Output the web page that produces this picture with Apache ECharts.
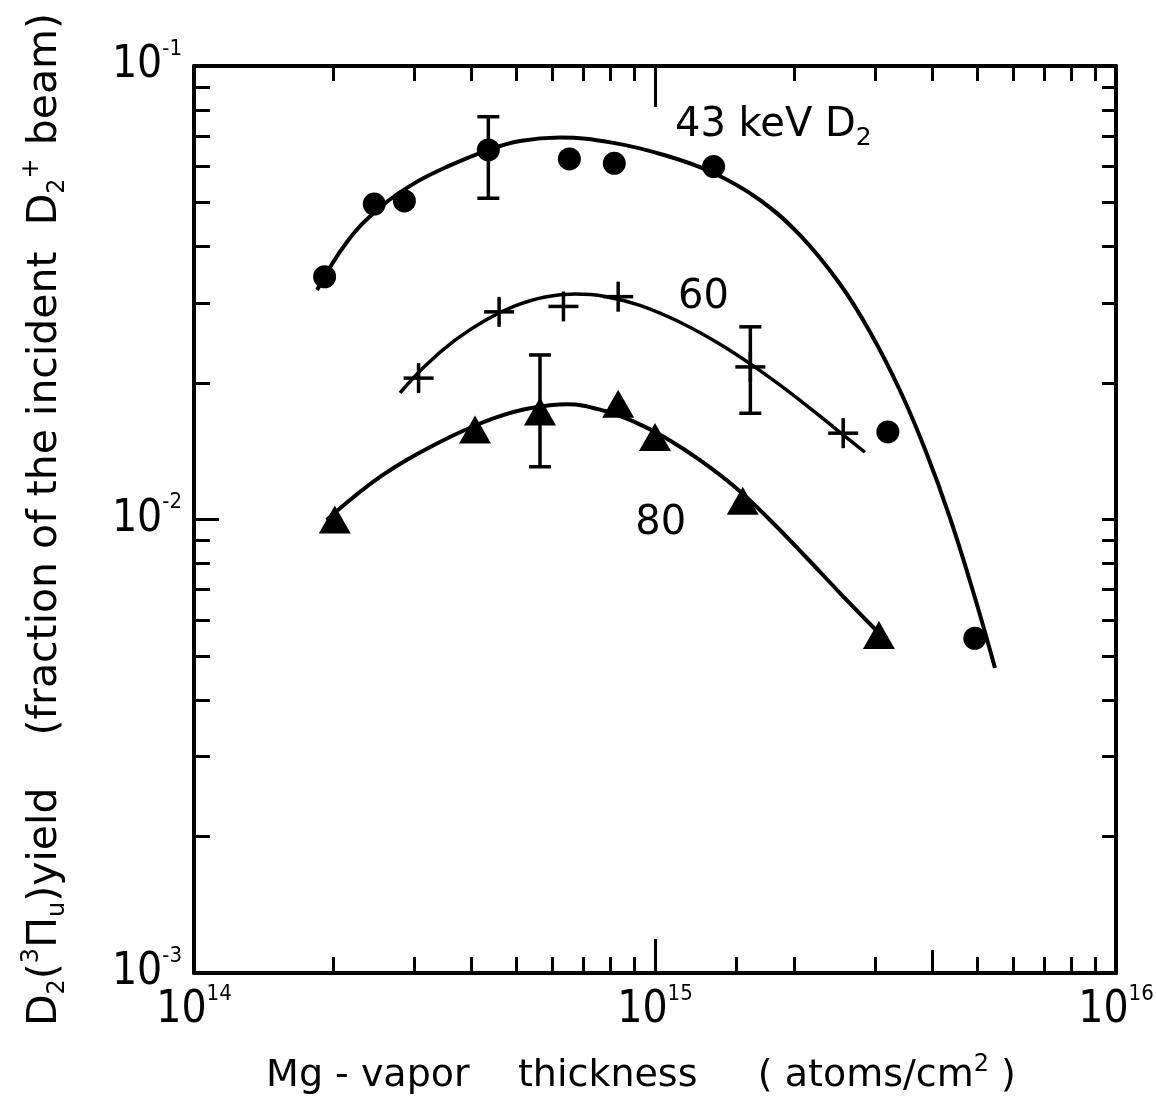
<!DOCTYPE html>
<html>
<head>
<meta charset="utf-8">
<script src="https://cdn.jsdelivr.net/npm/echarts@6/dist/echarts.min.js"></script>
<style>
  html, body { margin: 0; padding: 0; background: #fff; }
  #chart { width: 1156px; height: 1111px; }
</style>
</head>
<body>
<div id="chart"></div>
<script>
// --- data (x: atoms/cm2, y: fraction) ---
const dots43 = [
  [1.92e14, 0.0343], [2.46e14, 0.0496], [2.86e14, 0.0504], [4.35e14, 0.0653],
  [6.52e14, 0.0624], [8.16e14, 0.0610], [1.34e15, 0.0600], [3.20e15, 0.0156],
  [4.94e15, 0.00547]
];
const curve43 = [
  [1.849e14, 0.03207], [2.147e14, 0.04093], [2.532e14, 0.04877], [3.016e14, 0.05525],
  [3.592e14, 0.06036], [4.343e14, 0.06527], [5.095e14, 0.06833], [6.222e14, 0.06956],
  [8.067e14, 0.06777], [1.046e15, 0.06364], [1.336e15, 0.05817], [1.690e15, 0.05064],
  [2.063e15, 0.04236], [2.519e15, 0.03306], [2.927e15, 0.02591], [3.400e15, 0.01925],
  [3.852e15, 0.01428], [4.364e15, 0.01008], [4.945e15, 0.006713], [5.464e15, 0.004705]
];
const plus60 = [
  [3.07e14, 0.0205], [4.59e14, 0.0287], [6.33e14, 0.0295], [8.32e14, 0.0310],
  [1.61e15, 0.0217], [2.56e15, 0.0155]
];
const curve60 = [
  [2.798e14, 0.01901], [3.170e14, 0.02180], [3.683e14, 0.02485], [4.278e14, 0.02748],
  [4.970e14, 0.02957], [5.772e14, 0.03095], [6.706e14, 0.03142], [7.790e14, 0.03104],
  [9.278e14, 0.02965], [1.133e15, 0.02722], [1.384e15, 0.02434], [1.690e15, 0.02129],
  [2.063e15, 0.01832], [2.457e15, 0.01589], [2.854e15, 0.01407]
];
const tri80 = [
  [2.02e14, 0.0100], [4.07e14, 0.0158], [5.63e14, 0.0173], [8.32e14, 0.0180],
  [1.00e15, 0.0152], [1.55e15, 0.0110], [3.06e15, 0.00556]
];
const curve80 = [
  [1.940e14, 0.009975], [2.213e14, 0.01118], [2.532e14, 0.01241], [2.898e14, 0.01354],
  [3.333e14, 0.01464], [3.871e14, 0.01575], [4.542e14, 0.01682], [5.356e14, 0.01759],
  [6.444e14, 0.01795], [7.790e14, 0.01735], [9.049e14, 0.01640],
  [1.051e15, 0.01517], [1.252e15, 0.01352], [1.491e15, 0.01179], [1.776e15, 0.009975],
  [2.115e15, 0.008308], [2.519e15, 0.006885], [3.030e15, 0.005677]
];
// [x, low, high]
const errorBars = [
  [4.35e14, 0.0511, 0.0773], [1.61e15, 0.01715, 0.0266], [5.63e14, 0.01307, 0.02306]
];
const curveLabels = [
  { value: [1.105e15, 0.0739], text: '{t|43 keV D}{sub|2}' },
  { value: [1.122e15, 0.0308], text: '{t|60}' },
  { value: [9.06e14, 0.00977], text: '{t|80}' }
];

// ticks
const xLabelVals = [1e14, 1e15, 1e16];
const yLabelVals = [1e-3, 1e-2, 1e-1];
const xBottomMinor = [2e14, 3e14, 4e14, 5e14, 6e14, 7e14, 8e14, 9e14,
  1.5e15, 2e15, 3e15, 5e15, 6e15, 7e15, 8e15, 9e15];
const xBottomMid = [4e15];
const xTopMinor = [2e14, 3e14, 4e14, 5e14, 6e14, 7e14, 8e14, 9e14,
  2e15, 3e15, 4e15, 5e15, 6e15, 7e15, 8e15, 9e15];
const xMajor = [1e15];
const yMinor = [2e-3, 3e-3, 4e-3, 5e-3, 6e-3, 7e-3, 8e-3, 9e-3,
  2e-2, 3e-2, 4e-2, 5e-2, 6e-2, 7e-2, 8e-2, 9e-2];
const yMajor = [1e-2];

const INK = '#000';
const NUM_FONT = "'Liberation Sans Narrow', 'DejaVu Sans Condensed', 'Liberation Sans', sans-serif";
const TXT_FONT = "'DejaVu Sans', 'Noto Sans', sans-serif";
const lg = arr => arr.map(v => Math.log10(v));

const powRich = {
  b: { fontFamily: NUM_FONT, fontSize: 44, lineHeight: 56, color: INK },
  s: { fontFamily: NUM_FONT, fontSize: 22, lineHeight: 24, verticalAlign: 'top', color: INK }
};
const powLabel = v => '{b|10}{s|' + Math.round(v) + '}';

function tickAxis(pos, min, max, ticks, len, extra) {
  return Object.assign({
    type: 'value', position: pos, min: min, max: max,
    axisLine: { show: false, onZero: false },
    axisTick: { show: true, inside: true, length: len, customValues: lg(ticks),
      lineStyle: { color: INK, width: 3 } },
    axisLabel: { show: false },
    splitLine: { show: false }
  }, extra || {});
}

const chart = echarts.init(document.getElementById('chart'));

const option = {
  backgroundColor: '#fff',
  animation: false,
  grid: { left: 194, right: 40, top: 66, bottom: 138, containLabel: false, outerBoundsMode: 'none' },
  xAxis: [
    {
      type: 'log', logBase: 10, min: 1e14, max: 1e16, position: 'bottom',
      axisLine: { show: true, onZero: false, lineStyle: { color: INK, width: 4 } },
      axisTick: { show: false }, axisLabel: { show: false },
      splitLine: { show: false }, minorTick: { show: false }, minorSplitLine: { show: false }
    },
    tickAxis('bottom', 14, 16, xBottomMinor, 16, {
      axisLabel: {
        show: true, customValues: lg(xLabelVals), margin: 10,
        formatter: powLabel, rich: powRich
      },
      name: 'Mg - vapor    thickness     ( atoms/cm{sup|2} )',
      nameLocation: 'middle', nameGap: 80,
      nameTextStyle: {
        fontFamily: TXT_FONT, fontSize: 38, color: INK, verticalAlign: 'top', lineHeight: 46,
        padding: [0, 28, 0, 0],
        rich: {
          sup: { fontFamily: TXT_FONT, fontSize: 24, lineHeight: 22, verticalAlign: 'top', color: INK }
        }
      }
    }),
    tickAxis('bottom', 14, 16, xBottomMid, 23),
    tickAxis('bottom', 14, 16, xMajor, 34),
    tickAxis('top', 14, 16, xTopMinor, 15, {
      axisLine: { show: true, onZero: false, lineStyle: { color: INK, width: 4 } }
    }),
    tickAxis('top', 14, 16, xMajor, 41)
  ],
  yAxis: [
    {
      type: 'log', logBase: 10, min: 1e-3, max: 1e-1, position: 'left',
      axisLine: { show: true, onZero: false, lineStyle: { color: INK, width: 4 } },
      axisTick: { show: false }, axisLabel: { show: false },
      splitLine: { show: false }, minorTick: { show: false }, minorSplitLine: { show: false }
    },
    tickAxis('left', -3, -1, yMinor, 16, {
      axisLabel: {
        show: true, customValues: lg(yLabelVals), margin: 12,
        formatter: powLabel, rich: powRich
      },
      name: '{t|D}{sub|2}{t|(}{sup|3}{t|Π}{sub|u}{t|)yield    (fraction of the incident  D}{sub|2}{sup|+}{t| beam)}',
      nameLocation: 'middle', nameGap: 124, nameRotate: 90,
      nameTextStyle: {
        fontFamily: TXT_FONT, color: INK,
        rich: {
          t: { fontFamily: TXT_FONT, fontSize: 41, lineHeight: 50, color: INK },
          sub: { fontFamily: TXT_FONT, fontSize: 24, lineHeight: 24, verticalAlign: 'bottom', color: INK },
          sup: { fontFamily: TXT_FONT, fontSize: 24, lineHeight: 24, verticalAlign: 'top', color: INK }
        }
      }
    }),
    tickAxis('left', -3, -1, yMajor, 25),
    tickAxis('right', -3, -1, yMinor.concat(yMajor), 14, {
      axisLine: { show: true, onZero: false, lineStyle: { color: INK, width: 4 } }
    })
  ],
  series: [
    { type: 'line', data: curve43, smooth: 0.4, symbol: 'none', lineStyle: { color: INK, width: 4 }, z: 2 },
    { type: 'line', data: curve60, smooth: 0.4, symbol: 'none', lineStyle: { color: INK, width: 3.5 }, z: 2 },
    { type: 'line', data: curve80, smooth: 0.4, symbol: 'none', lineStyle: { color: INK, width: 4 }, z: 2 },
    {
      type: 'scatter', data: dots43, symbol: 'circle', symbolSize: 23,
      itemStyle: { color: INK, opacity: 1 }, z: 3
    },
    {
      type: 'scatter', data: tri80, symbol: 'triangle', symbolSize: [32, 28],
      itemStyle: { color: INK, opacity: 1 }, z: 3
    },
    {
      type: 'custom', data: plus60, z: 3,
      renderItem: function (params, api) {
        const p = api.coord([api.value(0), api.value(1)]);
        const h = 15;
        const st = { stroke: INK, lineWidth: 3.5 };
        return {
          type: 'group', children: [
            { type: 'line', shape: { x1: p[0] - h, y1: p[1], x2: p[0] + h, y2: p[1] }, style: st },
            { type: 'line', shape: { x1: p[0], y1: p[1] - h, x2: p[0], y2: p[1] + h }, style: st }
          ]
        };
      }
    },
    {
      type: 'custom', data: errorBars, encode: { x: 0, y: [1, 2] }, z: 3,
      renderItem: function (params, api) {
        const lo = api.coord([api.value(0), api.value(1)]);
        const hi = api.coord([api.value(0), api.value(2)]);
        const w = 11;
        const st = { stroke: INK, lineWidth: 3.5 };
        return {
          type: 'group', children: [
            { type: 'line', shape: { x1: lo[0], y1: lo[1], x2: hi[0], y2: hi[1] }, style: st },
            { type: 'line', shape: { x1: lo[0] - w, y1: lo[1], x2: lo[0] + w, y2: lo[1] }, style: st },
            { type: 'line', shape: { x1: hi[0] - w, y1: hi[1], x2: hi[0] + w, y2: hi[1] }, style: st }
          ]
        };
      }
    },
    {
      type: 'scatter', data: curveLabels, symbolSize: 0, silent: true, z: 4,
      itemStyle: { opacity: 1, color: INK },
      label: {
        show: true, position: 'right', distance: 0, color: INK, opacity: 1, textBorderWidth: 0,
        formatter: p => p.data.text,
        rich: {
          t: { fontFamily: TXT_FONT, fontSize: 40, lineHeight: 50, color: INK },
          sub: { fontFamily: TXT_FONT, fontSize: 25, lineHeight: 25, verticalAlign: 'bottom', color: INK }
        }
      }
    }
  ]
};

chart.setOption(option);
window.addEventListener('resize', () => chart.resize());
</script>
</body>
</html>
